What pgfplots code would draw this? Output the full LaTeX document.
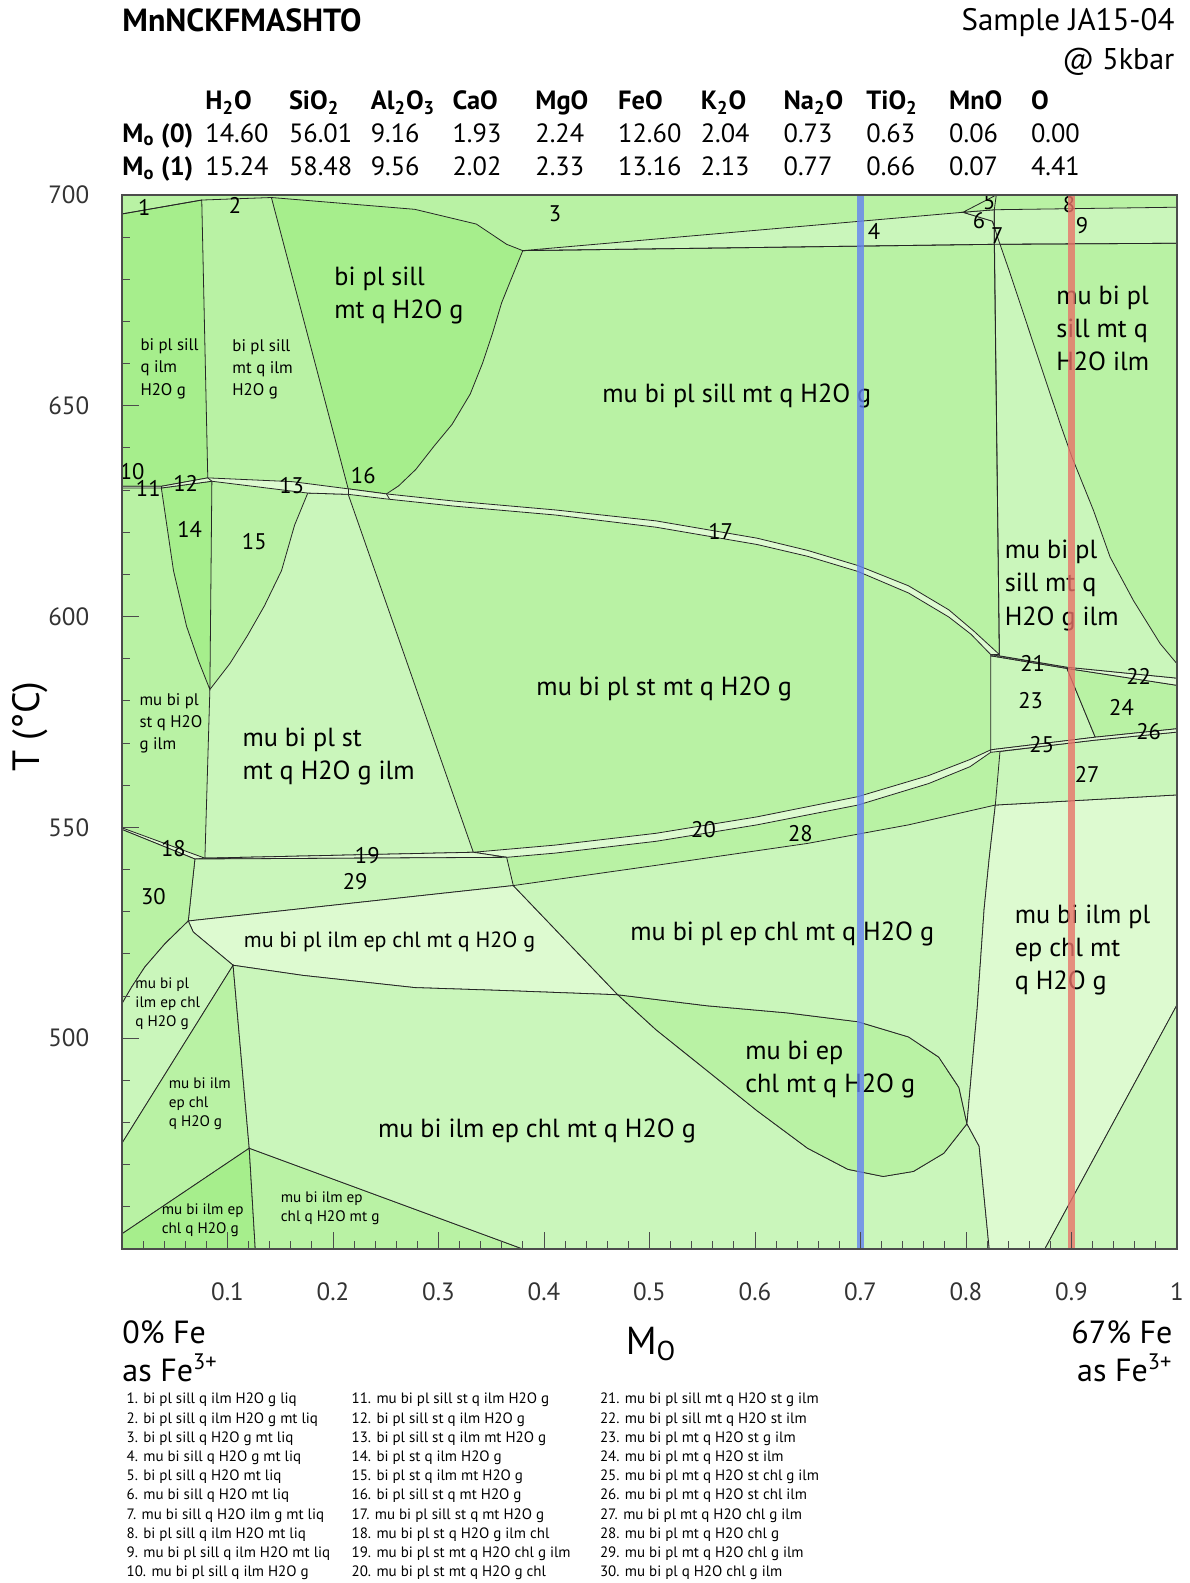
\documentclass[border=0pt]{standalone}
\usepackage{fontspec}
\setmainfont{PT Sans}
\usepackage{pgfplots}
\pgfplotsset{compat=1.18}
\definecolor{cA}{RGB}{166,238,140}
\definecolor{cB}{RGB}{185,242,164}
\definecolor{cC}{RGB}{202,246,187}
\definecolor{cD}{RGB}{221,250,208}
\definecolor{vblue}{RGB}{100,130,240}
\definecolor{vred}{RGB}{232,115,105}
\pgfplotsset{bnd/.style={draw=black!85, line width=0.4pt}}
\tikzset{
 big/.style={font=\fontsize{13.1}{16.6}\selectfont, inner sep=0pt, align=left},
 mid/.style={font=\fontsize{11.0}{14}\selectfont, inner sep=0pt, align=left},
 sml/.style={font=\fontsize{8.4}{11.1}\selectfont, inner sep=0pt, align=left},
 tiny/.style={font=\fontsize{7.6}{9.6}\selectfont, inner sep=0pt, align=left},
 num/.style={font=\fontsize{11.3}{12}\selectfont, inner sep=0pt},
 hdr/.style={font=\bfseries\fontsize{13.2}{15}\selectfont, inner sep=0pt, anchor=base west},
 val/.style={font=\fontsize{13.2}{15}\selectfont, inner sep=0pt, anchor=base west},
}
\begin{document}
\begin{tikzpicture}
\path[use as bounding box] (0pt,0pt) rectangle (594.5pt,791.5pt);
% header
\node[anchor=base west, font=\bfseries\fontsize{16}{18}\selectfont, inner sep=0pt] at (61pt,775.5pt) {MnNCKFMASHTO};
\node[anchor=base east, font=\fontsize{15.5}{18}\selectfont, inner sep=0pt] at (587.4pt,776.4pt) {Sample JA15-04};
\node[anchor=base east, font=\fontsize{15}{18}\selectfont, inner sep=0pt] at (587.4pt,756.7pt) {@ 5kbar};
\node[hdr] at (61pt,720.4pt) {M\textsubscript{o} (0)};
\node[hdr] at (61pt,703.7pt) {M\textsubscript{o} (1)};
\foreach \xx/\lab/\va/\vb in {
 102.5/{H\textsubscript{2}O}/14.60/15.24,
 144.3/{SiO\textsubscript{2}}/56.01/58.48,
 185.2/{Al\textsubscript{2}O\textsubscript{3}}/9.16/9.56,
 226.1/{CaO}/1.93/2.02,
 267.5/{MgO}/2.24/2.33,
 308.9/{FeO}/12.60/13.16,
 350.2/{K\textsubscript{2}O}/2.04/2.13,
 391.6/{Na\textsubscript{2}O}/0.73/0.77,
 433.0/{TiO\textsubscript{2}}/0.63/0.66,
 474.4/{MnO}/0.06/0.07,
 515.3/{O}/0.00/4.41}{
 \node[hdr] at (\xx pt,736.5pt) {\lab};
 \node[val] at (\xx pt,720.4pt) {\va};
 \node[val] at (\xx pt,703.7pt) {\vb};
}
\begin{axis}[
 at={(61pt,167pt)}, anchor=south west,
 scale only axis, width=527.5pt, height=527pt,
 xmin=0, xmax=1, ymin=450, ymax=700,
 axis on top,
 xtick={0,0.1,0.2,0.3,0.4,0.5,0.6,0.7,0.8,0.9,1},
 xticklabels={,0.1,0.2,0.3,0.4,0.5,0.6,0.7,0.8,0.9,1},
 ytick={450,500,550,600,650,700},
 yticklabels={,500,550,600,650,700},
 minor x tick num=4, minor y tick num=4,
 tick align=inside, xtick pos=bottom, ytick pos=left,
 major tick length=8.5pt, minor tick length=4pt,
 tick style={gray!60!black, line width=0.5pt},
 axis line style={gray!60!black, line width=0.8pt},
 ticklabel style={font=\fontsize{12.5}{15}\selectfont, text=black!80},
 xticklabel style={yshift=-13.3pt},
 yticklabel style={xshift=-12.9pt},
]
% background (medium)
\addplot[draw=none, fill=cB] coordinates {(0,450)(1,450)(1,700)(0,700)} -- cycle;
% left dark region
\addplot[bnd, fill=cA] coordinates {(0,695.5)(0.0756,698.8)(0.0813,632.9)(0.0373,630.9)(0,630.9)} -- cycle;
% dark lens bi pl sill mt q H2O g
\addplot[bnd, fill=cA] coordinates {(0.1416,699.4)(0.2775,696.6)(0.3359,693.1)(0.3646,688.3)(0.3799,686.8)(0.3675,679.2)(0.3598,674.4)(0.3512,667.2)(0.3416,660.0)(0.3301,652.8)(0.3129,645.6)(0.2957,640.4)(0.2785,634.9)(0.2622,631.0)(0.2507,629.1)(0.2144,630.3)} -- cycle;
% field 14
\addplot[bnd, fill=cA] coordinates {(0.0373,630.5)(0.0852,632.1)(0.0833,582.7)(0.0727,589.4)(0.0612,597.7)(0.0488,610.9)} -- cycle;
% light mu bi pl st mt q H2O g ilm
\addplot[bnd, fill=cC] coordinates {(0.1761,629.3)(0.2144,629.0)(0.333,544.1)(0.0786,542.7)(0.0833,582.7)(0.1024,588.9)(0.1187,595.4)(0.1349,602.5)(0.1512,610.9)(0.1636,621.7)} -- cycle;
% band 17
\addplot[bnd, fill=cD] coordinates {(0,630.9)(0.0373,630.9)(0.0813,632.9)(0.1617,632.0)(0.2144,630.3)(0.2507,629.1)(0.3148,627.4)(0.4105,625.3)(0.5062,622.7)(0.6019,618.6)(0.6498,615.7)(0.6976,612.1)(0.7455,607.3)(0.7837,601.6)(0.8077,596.5)(0.8316,591.0)(0.8234,591.0)(0.8048,595.8)(0.7837,599.9)(0.7455,605.6)(0.6976,610.7)(0.6498,614.3)(0.6019,617.1)(0.5062,621.2)(0.4105,624.1)(0.3148,626.2)(0.2507,627.9)(0.2144,629.0)(0.1761,629.3)(0.0852,632.1)(0.0373,630.5)(0,630.5)} -- cycle;
% band 20
\addplot[bnd, fill=cD] coordinates {(0.333,544.1)(0.4105,545.8)(0.5062,548.6)(0.6019,552.5)(0.6976,557.3)(0.7646,562.3)(0.8038,566.1)(0.8234,568.4)(0.8234,567.8)(0.8038,564.4)(0.7646,560.4)(0.6976,555.3)(0.6019,550.6)(0.5062,546.7)(0.4105,543.9)(0.3646,542.9)} -- cycle;
% band 19
\addplot[bnd, fill=cD] coordinates {(0.0786,542.7)(0.333,544.1)(0.3646,542.9)(0.0691,542.5)} -- cycle;
% band 18
\addplot[bnd, fill=cD] coordinates {(0,549.9)(0.0786,542.7)(0.0691,542.5)(0,549.5)} -- cycle;
% field 29
\addplot[bnd, fill=cC] coordinates {(0.0691,542.5)(0.3646,542.9)(0.3709,536.2)(0.0628,527.8)} -- cycle;
% field 30
\addplot[bnd, fill=cB] coordinates {(0,549.5)(0.0691,542.5)(0.0628,527.8)(0.0407,522.4)(0.0217,516.9)(0.0091,512.1)(0,508.2)} -- cycle;
% lightest mu bi pl ilm ep chl mt q H2O g
\addplot[bnd, fill=cD] coordinates {(0.0628,527.8)(0.3709,536.2)(0.4699,510.3)(0.3627,511.3)(0.2775,512.0)(0.1713,514.9)(0.1053,517.3)(0.0675,525.2)} -- cycle;
% mu bi pl ilm ep chl q H2O g
\addplot[bnd, fill=cC] coordinates {(0.0628,527.8)(0.0675,525.2)(0.1053,517.3)(0,475.1)(0,508.2)(0.0091,512.1)(0.0217,516.9)(0.0407,522.4)} -- cycle;
% mu bi ilm ep chl q H2O g (upper)
\addplot[bnd, fill=cB] coordinates {(0.1053,517.3)(0.1206,473.9)(0,453.6)(0,475.1)} -- cycle;
% bottom-left dark
\addplot[bnd, fill=cA] coordinates {(0,453.6)(0.1206,473.9)(0.1263,450)(0,450)} -- cycle;
% mu bi ilm ep chl q H2O mt g
\addplot[bnd, fill=cB] coordinates {(0.1206,473.9)(0.3799,450)(0.1263,450)} -- cycle;
% big light mu bi ilm ep chl mt q H2O g
\addplot[bnd, fill=cC] coordinates {(0.1053,517.3)(0.1713,514.9)(0.2775,512.0)(0.3627,511.3)(0.4699,510.3)(0.5062,502.0)(0.5541,492.4)(0.6019,482.8)(0.6498,473.9)(0.688,468.9)(0.7215,467.2)(0.7502,468.4)(0.7789,472.7)(0.8009,479.7)(0.8124,474.4)(0.822,450)(0.3799,450)(0.1206,473.9)} -- cycle;
% lens mu bi ep chl mt q H2O g
\addplot[bnd, fill=cB] coordinates {(0.4699,510.3)(0.5541,507.7)(0.6306,506.0)(0.6976,503.9)(0.7455,500.3)(0.7742,495.5)(0.7933,488.3)(0.8009,479.7)(0.7789,472.7)(0.7502,468.4)(0.7215,467.2)(0.688,468.9)(0.6498,473.9)(0.6019,482.8)(0.5541,492.4)(0.5062,502.0)} -- cycle;
% mu bi pl ep chl mt q H2O g
\addplot[bnd, fill=cC] coordinates {(0.3709,536.2)(0.5062,541.0)(0.6498,546.2)(0.7455,550.6)(0.8278,555.3)(0.822,542.7)(0.8172,530.7)(0.8105,506.7)(0.8009,479.7)(0.7933,488.3)(0.7742,495.5)(0.7455,500.3)(0.6976,503.9)(0.6306,506.0)(0.5541,507.7)(0.4699,510.3)} -- cycle;
% right lightest
\addplot[bnd, fill=cD] coordinates {(0.8278,555.3)(1,557.7)(1,507.9)(0.8747,450)(0.822,450)(0.8124,474.4)(0.8009,479.7)(0.8105,506.7)(0.8172,530.7)(0.822,542.7)} -- cycle;
% right corner
\addplot[bnd, fill=cC] coordinates {(1,507.9)(1,450)(0.8747,450)} -- cycle;
% field 27
\addplot[bnd, fill=cC] coordinates {(0.8322,568.0)(0.9225,570.7)(1,572.6)(1,557.7)(0.8278,555.3)} -- cycle;
% field 23
\addplot[bnd, fill=cC] coordinates {(0.8234,590.7)(0.8957,587.7)(0.9225,571.4)(0.8234,568.4)} -- cycle;
% field 24
\addplot[bnd, fill=cB] coordinates {(0.8957,587.7)(1,583.7)(1,573.4)(0.9225,571.4)} -- cycle;
% band 21/22
\addplot[bnd, fill=cD] coordinates {(0.8234,591.0)(0.8957,588.0)(1,585.4)(1,583.7)(0.8957,587.7)(0.8234,590.7)} -- cycle;
% band 25/26
\addplot[bnd, fill=cD] coordinates {(0.8234,568.4)(0.9225,571.4)(1,573.4)(1,572.6)(0.9225,570.7)(0.8234,567.8)} -- cycle;
% field 9
\addplot[bnd, fill=cC] coordinates {(0.8268,696.5)(1,697.1)(1,688.55)(0.8268,688.3)} -- cycle;
% light mu bi pl sill mt q H2O g ilm
\addplot[bnd, fill=cC] coordinates {(0.8268,692.6)(0.8292,690.5)(0.8418,681.4)(0.8576,669.5)(0.8734,657.6)(0.8892,645.8)(0.9003,637.9)(0.9208,625.2)(0.9366,614.1)(0.9587,603.8)(0.984,593.6)(1,588.8)(1,585.4)(0.8957,588.0)(0.8316,590.7)} -- cycle;
% field 4
\addplot[bnd, fill=cC] coordinates {(0.3799,686.8)(0.7971,695.9)(0.8249,693.8)(0.8268,692.6)(0.8268,688.3)} -- cycle;
% field 6
\addplot[bnd, fill=cC] coordinates {(0.7971,695.9)(0.8268,696.5)(0.8268,692.6)(0.8249,693.8)} -- cycle;
% field 5
\addplot[bnd, fill=cB] coordinates {(0.7971,695.9)(0.8287,700)(0.8268,696.5)} -- cycle;
% extra lines
\addplot[bnd] coordinates {(0,695.5)(0.0756,698.8)(0.1416,699.4)};
\addplot[bnd] coordinates {(0.3799,686.8)(0.8268,688.3)(1,688.55)};
\addplot[bnd] coordinates {(0.8268,696.5)(0.8268,688.3)(0.8316,591.0)};
\addplot[bnd] coordinates {(0.0813,632.9)(0.0852,632.1)};
\addplot[bnd] coordinates {(0.2144,630.3)(0.2144,629.0)};
\addplot[bnd] coordinates {(0.2507,629.1)(0.2535,627.9)};
\addplot[bnd] coordinates {(0.0373,630.9)(0.0373,630.5)};
% field labels
\node[big, anchor=west] at (axis cs:0.201,676.2) {bi pl sill\\mt q H2O g};
\node[big] at (axis cs:0.5828,652.3) {mu bi pl sill mt q H2O g};
\node[big, anchor=west] at (axis cs:0.8852,668.3) {mu bi pl\\sill mt q\\H2O ilm};
\node[big, anchor=west] at (axis cs:0.8364,607.4) {mu bi pl\\sill mt q\\H2O g ilm};
\node[big] at (axis cs:0.5139,582.9) {mu bi pl st mt q H2O g};
\node[big, anchor=west] at (axis cs:0.1139,566.8) {mu bi pl st\\mt q H2O g ilm};
\node[mid] at (axis cs:0.2536,522.8) {mu bi pl ilm ep chl mt q H2O g};
\node[big] at (axis cs:0.6258,524.7) {mu bi pl ep chl mt q H2O g};
\node[big, anchor=west] at (axis cs:0.8459,520.9) {mu bi ilm pl\\ep chl mt\\q H2O g};
\node[big, anchor=west] at (axis cs:0.5904,492.5) {mu bi ep\\chl mt q H2O g};
\node[big] at (axis cs:0.3933,478.0) {mu bi ilm ep chl mt q H2O g};
\node[sml, anchor=west] at (axis cs:0.0172,658.8) {bi pl sill\\q ilm\\H2O g};
\node[sml, anchor=west] at (axis cs:0.1043,658.6) {bi pl sill\\mt q ilm\\H2O g};
\node[sml, anchor=west] at (axis cs:0.0163,574.7) {mu bi pl\\st q H2O\\g ilm};
\node[tiny, anchor=west] at (axis cs:0.0124,508.2) {mu bi pl\\ilm ep chl\\q H2O g};
\node[tiny, anchor=west] at (axis cs:0.044,484.4) {mu bi ilm\\ep chl\\q H2O g};
\node[tiny, anchor=west] at (axis cs:0.0373,456.9) {mu bi ilm ep\\chl q H2O g};
\node[tiny, anchor=west] at (axis cs:0.1502,459.6) {mu bi ilm ep\\chl q H2O mt g};
% numbers
\node[num] at (axis cs:0.0211,697.1) {1};
\node[num] at (axis cs:0.1072,697.6) {2};
\node[num] at (axis cs:0.4105,695.5) {3};
\node[num] at (axis cs:0.7129,691.4) {4};
\node[num] at (axis cs:0.822,698.3) {5};
\node[num] at (axis cs:0.8124,694.0) {6};
\node[num] at (axis cs:0.8297,690.4) {7};
\node[num] at (axis cs:0.8976,697.8) {8};
\node[num] at (axis cs:0.91,692.8) {9};
\node[num] at (axis cs:0.0096,634.4) {10};
\node[num] at (axis cs:0.0249,630.3) {11};
\node[num] at (axis cs:0.0603,631.5) {12};
\node[num] at (axis cs:0.1608,631.0) {13};
\node[num] at (axis cs:0.0641,620.7) {14};
\node[num] at (axis cs:0.1254,617.9) {15};
\node[num] at (axis cs:0.2287,633.4) {16};
\node[num] at (axis cs:0.5675,620.3) {17};
\node[num] at (axis cs:0.0488,545.0) {18};
\node[num] at (axis cs:0.2325,543.4) {19};
\node[num] at (axis cs:0.5512,549.4) {20};
\node[num] at (axis cs:0.8632,588.9) {21};
\node[num] at (axis cs:0.9636,585.8) {22};
\node[num] at (axis cs:0.8612,580.1) {23};
\node[num] at (axis cs:0.9474,578.4) {24};
\node[num] at (axis cs:0.8718,569.7) {25};
\node[num] at (axis cs:0.9732,572.8) {26};
\node[num] at (axis cs:0.9148,562.5) {27};
\node[num] at (axis cs:0.6431,548.5) {28};
\node[num] at (axis cs:0.221,537.1) {29};
\node[num] at (axis cs:0.0297,533.6) {30};
% vertical sample lines (semi-transparent, over text)
\addplot[vblue, line width=3.5pt, opacity=0.8] coordinates {(0.7,450)(0.7,700)};
\addplot[vred, line width=3.5pt, opacity=0.8] coordinates {(0.9,450)(0.9,700)};
\end{axis}
% axis titles
\node[rotate=90, font=\fontsize{19}{22}\selectfont, inner sep=0pt] at (15.1pt,428.2pt) {T (°C)};
\node[anchor=base, font=\fontsize{19.5}{22}\selectfont, inner sep=0pt] at (325.5pt,114.2pt) {M\textsubscript{O}};
\node[anchor=base west, font=\fontsize{16}{18}\selectfont, inner sep=0pt] at (61pt,119.7pt) {0\% Fe};
\node[anchor=base west, font=\fontsize{16}{18}\selectfont, inner sep=0pt] at (61pt,100.6pt) {as Fe\textsuperscript{3+}};
\node[anchor=base east, font=\fontsize{16}{18}\selectfont, inner sep=0pt] at (586.4pt,119.7pt) {67\% Fe};
\node[anchor=base east, font=\fontsize{16}{18}\selectfont, inner sep=0pt] at (586.4pt,100.6pt) {as Fe\textsuperscript{3+}};
% legend
\node[anchor=base west, inner sep=0pt, font=\fontsize{7.5}{9.6}\selectfont] at (63.1pt,89.5pt) {\begin{tabular}[t]{@{}l@{}}
1. bi pl sill q ilm H2O g liq\\
2. bi pl sill q ilm H2O g mt liq\\
3. bi pl sill q H2O g mt liq\\
4. mu bi sill q H2O g mt liq\\
5. bi pl sill q H2O mt liq\\
6. mu bi sill q H2O mt liq\\
7. mu bi sill q H2O ilm g mt liq\\
8. bi pl sill q ilm H2O mt liq\\
9. mu bi pl sill q ilm H2O mt liq\\
10. mu bi pl sill q ilm H2O g
\end{tabular}};
\node[anchor=base west, inner sep=0pt, font=\fontsize{7.5}{9.6}\selectfont] at (175.6pt,89.5pt) {\begin{tabular}[t]{@{}l@{}}
11. mu bi pl sill st q ilm H2O g\\
12. bi pl sill st q ilm H2O g\\
13. bi pl sill st q ilm mt H2O g\\
14. bi pl st q ilm H2O g\\
15. bi pl st q ilm mt H2O g\\
16. bi pl sill st q mt H2O g\\
17. mu bi pl sill st q mt H2O g\\
18. mu bi pl st q H2O g ilm chl\\
19. mu bi pl st mt q H2O chl g ilm\\
20. mu bi pl st mt q H2O g chl
\end{tabular}};
\node[anchor=base west, inner sep=0pt, font=\fontsize{7.5}{9.6}\selectfont] at (299.8pt,89.5pt) {\begin{tabular}[t]{@{}l@{}}
21. mu bi pl sill mt q H2O st g ilm\\
22. mu bi pl sill mt q H2O st ilm\\
23. mu bi pl mt q H2O st g ilm\\
24. mu bi pl mt q H2O st ilm\\
25. mu bi pl mt q H2O st chl g ilm\\
26. mu bi pl mt q H2O st chl ilm\\
27. mu bi pl mt q H2O chl g ilm\\
28. mu bi pl mt q H2O chl g\\
29. mu bi pl mt q H2O chl g ilm\\
30. mu bi pl q H2O chl g ilm
\end{tabular}};
\end{tikzpicture}
\end{document}
